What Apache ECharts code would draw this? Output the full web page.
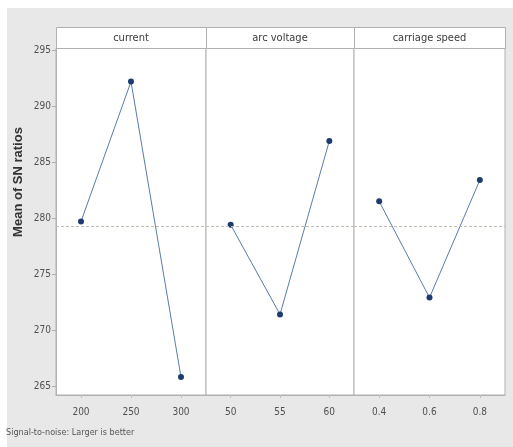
<!DOCTYPE html>
<html>
<head>
<meta charset="utf-8">
<script src="https://cdn.jsdelivr.net/npm/echarts@6/dist/echarts.min.js"></script>
<style>
  html, body { margin: 0; padding: 0; background: #ffffff; }
  #chart { width: 513px; height: 447px; }
</style>
</head>
<body>
<div id="chart"></div>
<script>
// Main effects plot for SN ratios (one panel per factor)
const factors = ['current', 'arc voltage', 'carriage speed'];
const currentLevels = ['200', '250', '300'];
const voltageLevels = ['50', '55', '60'];
const speedLevels = ['0.4', '0.6', '0.8'];
const currentMeans = [279.7, 292.2, 265.8];
const voltageMeans = [279.4, 271.4, 286.9];
const speedMeans = [281.5, 272.9, 283.4];
const grandMean = 279.25;
const yTicks = [265, 270, 275, 280, 285, 290, 295];
const yMin = 264.2;
const yMax = 295.2;
const footNote = 'Signal-to-noise: Larger is better';
const yTitle = 'Mean of SN ratios';

const levels = [currentLevels, voltageLevels, speedLevels];
const means = [currentMeans, voltageMeans, speedMeans];

// panel layout
const panelLeft = [56, 206, 354];
const panelWidth = [150, 148, 151];
const plotTop = 48, plotHeight = 347, stripTop = 27, stripHeight = 21;
const borderColor = '#b0b0b0';
const font = '"Liberation Sans Narrow", "DejaVu Sans Condensed", "Liberation Sans", Arial, sans-serif';

const chart = echarts.init(document.getElementById('chart'));

const grids = [], xAxes = [], yAxes = [], series = [], graphics = [];

graphics.push({
  type: 'rect', silent: true, z: -10,
  shape: { x: 7, y: 8, width: 506, height: 439 },
  style: { fill: '#e8e8e8' }
});

for (let i = 0; i < 3; i++) {
  grids.push({
    left: panelLeft[i], top: plotTop, width: panelWidth[i], height: plotHeight,
    show: true, backgroundColor: '#ffffff', borderColor: borderColor, borderWidth: 1
  });
  xAxes.push({
    type: 'category', gridIndex: i, data: levels[i], boundaryGap: true,
    axisLine: { show: true, lineStyle: { color: borderColor } },
    axisTick: { show: true, alignWithLabel: true, length: 3, lineStyle: { color: '#c0c0c0' } },
    axisLabel: { color: '#505050', fontSize: 10, fontFamily: font, margin: 12 }
  });
  yAxes.push({
    type: 'value', gridIndex: i, min: yMin, max: yMax,
    splitLine: { show: false },
    axisLine: { show: i === 0, lineStyle: { color: borderColor } },
    axisTick: { show: i === 0, length: 4, customValues: yTicks, lineStyle: { color: borderColor } },
    axisLabel: {
      show: i === 0, customValues: yTicks, color: '#505050', fontSize: 10,
      fontFamily: font, margin: 5
    }
  });
  series.push({
    type: 'line', xAxisIndex: i, yAxisIndex: i, data: means[i],
    symbol: 'circle', symbolSize: 6,
    itemStyle: { color: '#1d3b6e' },
    lineStyle: { color: '#5a7bad', width: 1 },
    markLine: {
      silent: true, symbol: 'none', label: { show: false },
      lineStyle: { color: '#c4bcb2', type: [3, 2], width: 1 },
      data: [{ yAxis: grandMean }]
    },
    z: 3
  });
  // factor strip above each panel
  graphics.push({
    type: 'rect', silent: true,
    shape: { x: panelLeft[i] + 0.5, y: stripTop + 0.5, width: panelWidth[i], height: stripHeight },
    style: { fill: '#ffffff', stroke: borderColor, lineWidth: 1 }
  });
  graphics.push({
    type: 'text', silent: true,
    x: panelLeft[i] + panelWidth[i] / 2, y: stripTop + stripHeight / 2 + 1,
    style: {
      text: factors[i], fill: '#3a3a3a', font: '11px ' + font,
      textAlign: 'center', textVerticalAlign: 'middle'
    }
  });
}

graphics.push({
  type: 'text', silent: true, x: 18, y: 182, rotation: Math.PI / 2,
  style: {
    text: yTitle, fill: '#333333', font: 'bold 13px "Liberation Sans", Arial, sans-serif',
    textAlign: 'center', textVerticalAlign: 'middle'
  }
});
graphics.push({
  type: 'text', silent: true, x: 6, y: 433,
  style: {
    text: footNote, fill: '#555555', font: '9px ' + font,
    textAlign: 'left', textVerticalAlign: 'middle'
  }
});

chart.setOption({
  backgroundColor: '#ffffff',
  animation: false,
  grid: grids,
  xAxis: xAxes,
  yAxis: yAxes,
  series: series,
  graphic: graphics
});
</script>
</body>
</html>
